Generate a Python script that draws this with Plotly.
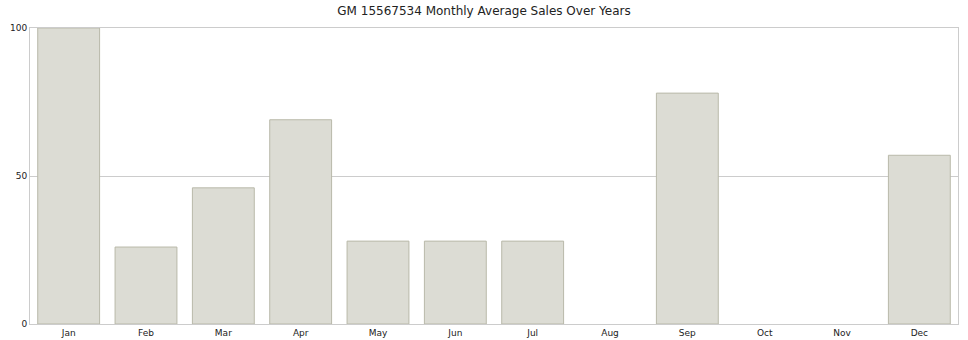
import plotly.graph_objects as go

months = ["Jan", "Feb", "Mar", "Apr", "May", "Jun", "Jul", "Aug", "Sep", "Oct", "Nov", "Dec"]
sales = [100, 26, 46, 69, 28, 28, 28, 0, 78, 0, 0, 57]
y_ticks = [0, 50, 100]

line_widths = [1 if v > 0 else 0 for v in sales]

fig = go.Figure(go.Bar(
    x=months, y=sales,
    marker=dict(color="#dcdcd4", line=dict(color="#b9b9a9", width=line_widths)),
))

fig.update_layout(
    width=968, height=340,
    margin=dict(l=30, r=10, t=28, b=16, autoexpand=False),
    paper_bgcolor="white", plot_bgcolor="white",
    bargap=0.2,
    showlegend=False,
    font=dict(family="DejaVu Sans", size=10, color="#222"),
    title=dict(text="GM 15567534 Monthly Average Sales Over Years", x=0.5, xanchor="center",
               y=1 - 11/340, yanchor="middle", font=dict(size=12, color="#222")),
)
fig.update_xaxes(showline=True, linecolor="#cccccc", mirror=True, ticks="", tickfont=dict(size=9),
                 automargin=False)
fig.update_yaxes(range=[0, 100], tickvals=y_ticks, showgrid=True, gridcolor="#cccccc",
                 showline=True, linecolor="#cccccc", mirror=True, zeroline=False, ticks="",
                 tickfont=dict(size=9), automargin=False)

fig.write_html("out.html")
